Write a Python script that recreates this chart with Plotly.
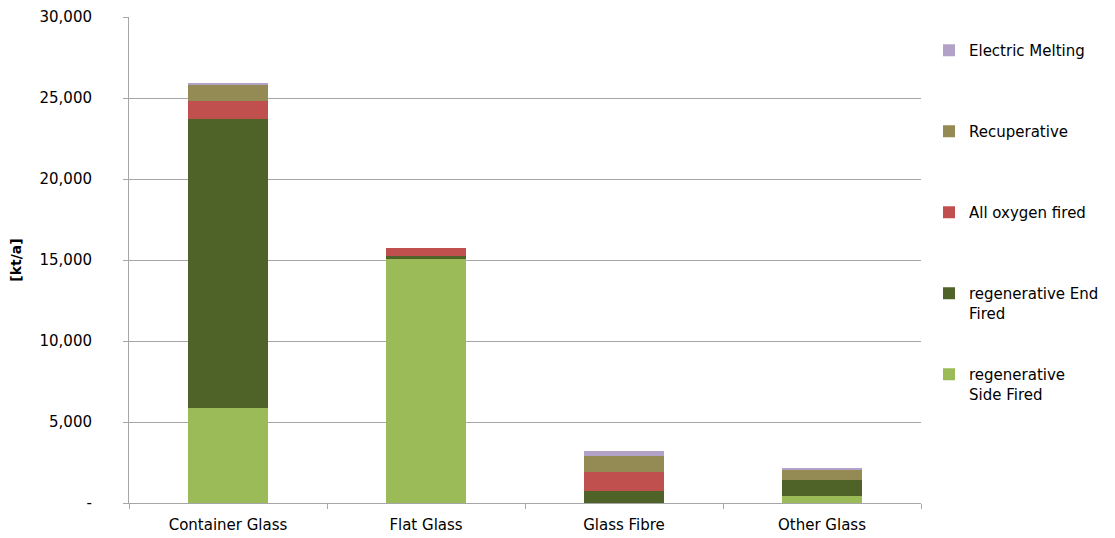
import plotly.graph_objects as go

categories = ["Container Glass", "Flat Glass", "Glass Fibre", "Other Glass"]
side_fired = [5850, 15050, 0, 450]
end_fired = [17850, 200, 760, 950]
oxygen_fired = [1110, 470, 1130, 0]
recuperative = [990, 0, 1010, 620]
electric = [140, 0, 310, 160]

series_names = ["regenerative<br>Side Fired", "regenerative End<br>Fired", "All oxygen fired",
                "Recuperative", "Electric Melting"]
series_values = [side_fired, end_fired, oxygen_fired, recuperative, electric]
colors = ["#9BBB59", "#4F6228", "#C0504D", "#948A54", "#B3A2C7"]

tick_vals = [0, 5000, 10000, 15000, 20000, 25000, 30000]
tick_text = ["-", "5,000", "10,000", "15,000", "20,000", "25,000", "30,000"]

# legend label first-line centre (px from top) for each series
legend_tops = [374, 293, 212, 131, 50]
legend_ids = ["legend5", "legend4", "legend3", "legend2", "legend"]

H = 538
FAM = "DejaVu Sans, Liberation Sans, Arial, sans-serif"
fig = go.Figure()
for name, vals, col, lid in zip(series_names, series_values, colors, legend_ids):
    fig.add_trace(go.Bar(x=categories, y=vals, name=name, marker_color=col,
                         marker_line_width=0, legend=lid))

layout_legends = {}
for lid, top in zip(legend_ids, legend_tops):
    layout_legends[lid] = dict(
        x=929 / 1115, xref="container", xanchor="left",
        y=1 - (top - 16) / H, yref="container", yanchor="top",
        font=dict(family=FAM, size=15, color="#000000"),
        bgcolor="rgba(0,0,0,0)", borderwidth=0, valign="top",
        itemwidth=30, tracegroupgap=0,
    )

fig.update_layout(
    width=1115, height=538,
    barmode="stack", bargap=0.596,
    plot_bgcolor="white", paper_bgcolor="white",
    margin=dict(l=129, r=194, t=17, b=35, autoexpand=False),
    font=dict(family=FAM, size=15, color="#000000"),
    showlegend=True,
    xaxis=dict(showline=True, linecolor="#A6A6A6", linewidth=1,
               ticks="outside", tickson="boundaries", ticklen=5, tickcolor="#A6A6A6",
               ticklabelstandoff=8, automargin=False,
               tickfont=dict(family=FAM, size=15, color="#000000"),
               showgrid=False),
    yaxis=dict(range=[0, 30000], tickvals=tick_vals, ticktext=tick_text,
               showline=True, linecolor="#A6A6A6", linewidth=1,
               ticks="outside", ticklen=5, tickcolor="#A6A6A6",
               ticklabelstandoff=28, automargin=False,
               showgrid=True, gridcolor="#A6A6A6", gridwidth=1,
               zeroline=False,
               tickfont=dict(family=FAM, size=15, color="#000000"),
               title=dict(text="<b>[kt/a]</b>", standoff=14,
                          font=dict(family=FAM, size=14, color="#000000"))),
    **layout_legends,
)

fig.write_html("out.html", config={"displayModeBar": False},
               post_script="document.body.style.margin='0px';")
